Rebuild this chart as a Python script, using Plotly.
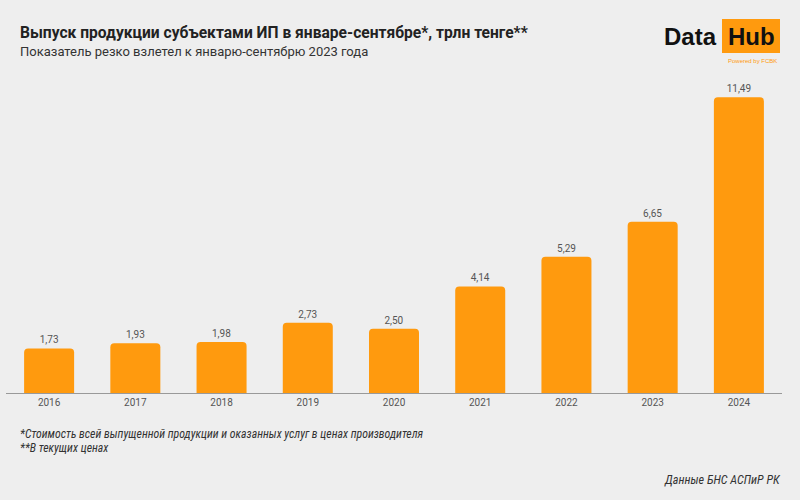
import plotly.graph_objects as go

years = ["2016", "2017", "2018", "2019", "2020", "2021", "2022", "2023", "2024"]
values = [1.73, 1.93, 1.98, 2.73, 2.50, 4.14, 5.29, 6.65, 11.49]
labels = [f"{v:.2f}".replace(".", ",") for v in values]

BG = "#EEEEEE"
ORANGE = "#FF9A0E"
ML, MR, MT, MB = 6, 18, 84, 107
W, H = 800, 500
plot_w = W - ML - MR
plot_h = H - MT - MB


def px(x):
    return (x - ML) / plot_w


def py(y):
    return ((H - y) - MB) / plot_h


fig = go.Figure(go.Bar(
    x=years, y=values, text=labels, textposition="outside",
    textfont=dict(family="Roboto", size=10, color="#555555"),
    marker=dict(color=ORANGE, cornerradius=4, line=dict(width=0)),
    cliponaxis=False,
))

fig.update_layout(
    width=W, height=H,
    paper_bgcolor=BG, plot_bgcolor=BG,
    margin=dict(l=ML, r=MR, t=MT, b=MB),
    bargap=0.42,
    showlegend=False,
    font=dict(family="Roboto", color="#333333"),
    xaxis=dict(showgrid=False, showline=True, linecolor="#999999", linewidth=1,
               ticks="", tickfont=dict(size=10, color="#555555"), fixedrange=True),
    yaxis=dict(range=[0, 12], visible=False, fixedrange=True),
)

NARROW = "Liberation Sans Narrow, Roboto Condensed, Roboto"
texts = [
    ("<b>Выпуск продукции субъектами ИП в январе-сентябре*, трлн тенге**</b>", 18, 33,
     dict(size=15.6, color="#222222", family="Roboto"), "left"),
    ("Показатель резко взлетел к январю-сентябрю 2023 года", 18, 52,
     dict(size=13, color="#333333", family="Roboto"), "left"),
    ("<i>*Стоимость всей выпущенной продукции и оказанных услуг в ценах производителя</i>", 18, 434,
     dict(size=11.8, color="#333333", family=NARROW), "left"),
    ("<i>**В текущих ценах</i>", 18, 448,
     dict(size=11.8, color="#333333", family=NARROW), "left"),
    ("<i>Данные БНС АСПиР РК</i>", 783, 480,
     dict(size=12.2, color="#333333", family=NARROW), "right"),
    ("<b>Data</b>", 719, 37, dict(size=24, color="#111111", family="Arial"), "right"),
    ("<b>Hub</b>", 751, 36, dict(size=24, color="#111111", family="Arial"), "center"),
    ("Powered by FCBK", 779, 61, dict(size=6, color=ORANGE, family="Arial"), "right"),
]
fig.layout.annotations = [
    dict(xref="paper", yref="paper", showarrow=False, xanchor=anc, yanchor="middle",
         x=px(x), y=py(y), text=t, font=f)
    for t, x, y, f, anc in texts
]

fig.add_shape(type="rect", xref="paper", yref="paper", layer="below",
              x0=px(722), x1=px(780), y0=py(53), y1=py(19),
              fillcolor=ORANGE, line=dict(width=0))

fig.write_html("out.html", config={"displayModeBar": False},
               post_script="document.body.style.margin='0';document.body.style.padding='0';")
